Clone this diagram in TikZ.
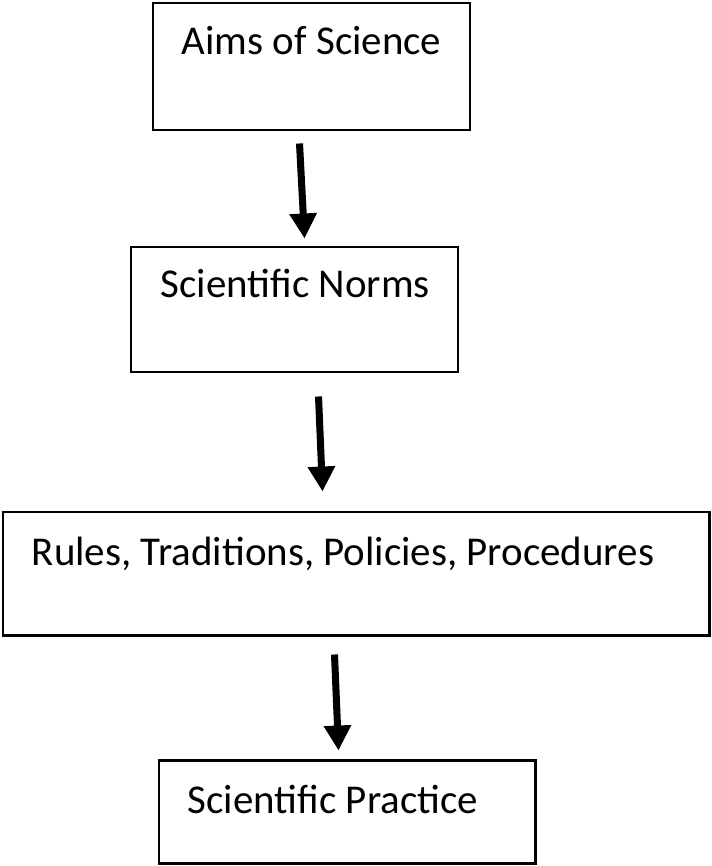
\documentclass[tikz,border=0pt]{standalone}
\usepackage{fontspec}
\setmainfont{Carlito}
\usetikzlibrary{calc,arrows.meta}

\begin{document}
\begin{tikzpicture}[
  stepbox/.style={draw,line width=1.7pt,inner sep=0pt},
  steptext/.style={anchor=base west,inner sep=0pt,font=\fontsize{23.3}{28}\selectfont},
  flow/.style={line width=4pt,-{Triangle[width=0.52cm,length=0.5cm]}}
]
  \useasboundingbox (0,0) rectangle (14.22,-17.32);
  \node[stepbox,minimum width=6.34cm,minimum height=2.54cm] (aims) at (6.23,-1.33) {};
  \node[stepbox,minimum width=6.54cm,minimum height=2.50cm] (norms) at (5.89,-6.19) {};
  \node[stepbox,minimum width=14.12cm,minimum height=2.46cm] (rules) at (7.12,-11.47) {};
  \node[stepbox,minimum width=7.52cm,minimum height=2.06cm] (practice) at (6.94,-16.23) {};
  %% texts sit near the top left of each box
  \node[steptext] (aimstext) at ($(aims.north west)+(0.6,-1.06)$) {Aims of Science};
  \node[steptext] (normstext) at ($(norms.north west)+(0.62,-1.04)$) {Scientific Norms};
  \node[steptext] (rulestext) at ($(rules.north west)+(0.6,-1.10)$) {Rules, Traditions, Policies, Procedures};
  \node[steptext] (practicetext) at ($(practice.north west)+(0.6,-1.10)$) {Scientific Practice};
  \path[flow] ($(aims.south west)+(2.96,-0.24)$) edge ($(norms.north west)+(3.50,0.14)$);
  \path[flow] ($(norms.south west)+(3.78,-0.46)$) edge ($(rules.north west)+(6.42,0.38)$);
  \path[flow] ($(rules.south west)+(6.66,-0.36)$) edge ($(practice.north west)+(3.62,0.16)$);
\end{tikzpicture}
\end{document}
